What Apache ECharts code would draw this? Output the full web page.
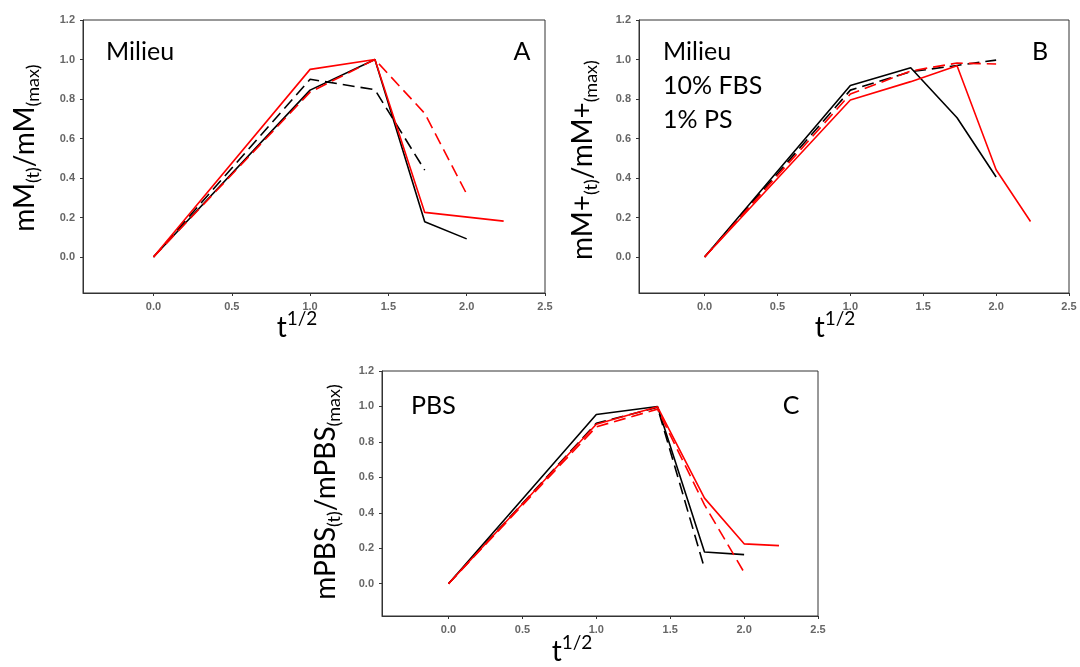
<!DOCTYPE html>
<html>
<head>
<meta charset="utf-8">
<script src="https://cdn.jsdelivr.net/npm/echarts@6/dist/echarts.min.js"></script>
<style>html,body{margin:0;padding:0;background:#fff}#c{width:1080px;height:667px}</style>
</head>
<body>
<div id="c"></div>
<script>
// x = t^(1/2)
const tSqrt = [0, 1, 1.414, 1.732, 2, 2.236];
const xTicks = [0, 0.5, 1, 1.5, 2, 2.5];
const yTicks = [0, 0.2, 0.4, 0.6, 0.8, 1.0, 1.2];

// Panel A: Milieu
const aBlackSolid = [0, 0.845, 1.0, 0.179, 0.092];
const aBlackDash  = [0, 0.90, 0.847, 0.44];
const aRedSolid   = [0, 0.95, 1.0, 0.226, null, 0.182];
const aRedDash    = [0, 0.835, 1.0, 0.727, 0.319];

// Panel B: Milieu 10% FBS 1% PS
const bBlackSolid = [0, 0.868, 0.958, 0.705, 0.405];
const bBlackDash  = [0, 0.845, 0.938, 0.97, 0.997];
const bRedSolid   = [0, 0.795, 0.888, 0.968, 0.442, 0.18];
const bRedDash    = [0, 0.825, 0.942, 0.982, 0.977];

// Panel C: PBS
const cBlackSolid = [0, 0.955, 1.0, 0.179, 0.164];
const cBlackDash  = [0, 0.905, 0.995, 0.087];
const cRedSolid   = [0, 0.90, 0.998, 0.483, 0.225, 0.215];
const cRedDash    = [0, 0.885, 0.985, 0.445, 0.064];

const chart = echarts.init(document.getElementById('c'), null, {renderer: 'canvas'});

function pairs(ys) {
  const out = [];
  ys.forEach((v, i) => { if (v !== null && v !== undefined) out.push([tSqrt[i], v]); });
  return out;
}
function ser(idx, ys, color, dashed) {
  return {
    type: 'line', xAxisIndex: idx, yAxisIndex: idx, data: pairs(ys),
    showSymbol: false, symbol: 'none', silent: true, animation: false,
    lineStyle: {color: color, width: 1.6, type: dashed ? [12, 6] : 'solid'}
  };
}
const grids = [
  {left: 83, top: 20, width: 462, height: 273},
  {left: 639, top: 20, width: 430, height: 273},
  {left: 382, top: 371, width: 436, height: 245}
];
const labelStyle = {fontFamily: 'Liberation Sans', fontSize: 11, fontWeight: 'bold', color: '#666'};
const xAxes = grids.map((g, i) => ({
  type: 'value', gridIndex: i, min: -0.45, max: 2.5,
  splitLine: {show: false},
  axisLine: {show: true, onZero: false, lineStyle: {color: '#333', width: 1}},
  axisTick: {show: true, inside: false, length: 3, customValues: xTicks, lineStyle: {color: '#333'}},
  axisLabel: Object.assign({customValues: xTicks, margin: 8, formatter: v => v.toFixed(1)}, labelStyle)
}));
const yAxes = grids.map((g, i) => ({
  type: 'value', gridIndex: i, min: -0.182, max: 1.2,
  splitLine: {show: false},
  axisLine: {show: true, onZero: false, lineStyle: {color: '#333', width: 1}},
  axisTick: {show: true, inside: false, length: 3, customValues: yTicks, lineStyle: {color: '#333'}},
  axisLabel: Object.assign({customValues: yTicks, margin: 8, formatter: v => v.toFixed(1)}, labelStyle)
}));
grids.forEach(g => { g.show = true; g.borderColor = '#333'; g.borderWidth = 1; g.backgroundColor = 'transparent'; });

const FONT = 'Lato';
const rich = {
  m: {fontFamily: FONT, fontSize: 28, color: '#000', verticalAlign: 'middle'},
  s: {fontFamily: FONT, fontSize: 18, color: '#000', padding: [16, 0, 0, 0], verticalAlign: 'middle'},
  p: {fontFamily: FONT, fontSize: 19, color: '#000', padding: [0, 0, 18, 0], verticalAlign: 'middle'}
};
function ytitle(x, y, main1, main2) {
  return {
    type: 'text', x: x, y: y, rotation: Math.PI / 2, silent: true,
    style: {text: '{m|' + main1 + '}{s|(t)}{m|/' + main2 + '}{s|(max)}', rich: rich, align: 'center', verticalAlign: 'middle'}
  };
}
function xtitle(x, y) {
  return {
    type: 'text', x: x, y: y, silent: true,
    style: {text: '{m|t}{p|1/2}', rich: rich, align: 'center', verticalAlign: 'middle'}
  };
}
function label(x, y, text, align) {
  return {type: 'text', x: x, y: y, silent: true,
    style: {text: text, fontFamily: FONT, fontSize: 25, fill: '#000', align: align || 'left', verticalAlign: 'middle'}};
}

chart.setOption({
  animation: false,
  grid: grids, xAxis: xAxes, yAxis: yAxes,
  series: [
    ser(0, aBlackSolid, '#000', false), ser(0, aBlackDash, '#000', true),
    ser(0, aRedSolid, '#ff0000', false), ser(0, aRedDash, '#ff0000', true),
    ser(1, bBlackSolid, '#000', false), ser(1, bBlackDash, '#000', true),
    ser(1, bRedSolid, '#ff0000', false), ser(1, bRedDash, '#ff0000', true),
    ser(2, cBlackSolid, '#000', false), ser(2, cBlackDash, '#000', true),
    ser(2, cRedSolid, '#ff0000', false), ser(2, cRedDash, '#ff0000', true)
  ],
  graphic: [
    ytitle(25, 148, 'mM', 'mM'),
    ytitle(583, 160, 'mM+', 'mM+'),
    ytitle(326, 492, 'mPBS', 'mPBS'),
    xtitle(297, 328), xtitle(835, 328), xtitle(572, 652),
    label(106, 52, 'Milieu'), label(522, 52, 'A', 'center'),
    label(663, 52, 'Milieu'), label(663, 86, '10% FBS'), label(663, 120, '1% PS'), label(1040, 52, 'B', 'center'),
    label(411, 406, 'PBS'), label(791, 406, 'C', 'center')
  ]
});
</script>
</body>
</html>
